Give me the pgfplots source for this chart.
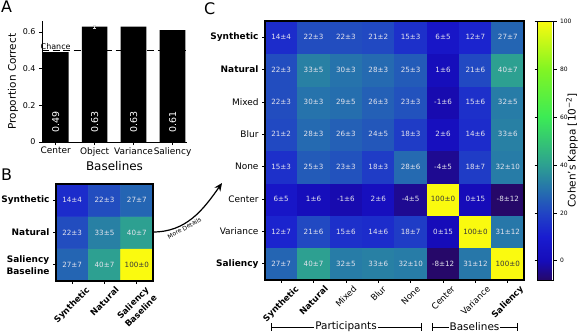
\documentclass[border=0pt]{standalone}
\usepackage{fontspec}
\setmainfont{DejaVu Sans}
\usepackage{pgfplots}
\usepackage{pgfplotstable}
\pgfplotsset{compat=1.18}
\usetikzlibrary{arrows.meta}

\definecolor{celllight}{RGB}{228,228,238}
\definecolor{celldark}{RGB}{55,55,55}

\pgfplotsset{
  /pgf/number format/assume math mode=true,
  colormap={kappa}{rgb255(0cm)=(38,8,105); rgb255(8cm)=(22,12,185);
    rgb255(18cm)=(25,28,208); rgb255(28cm)=(33,68,196); rgb255(38cm)=(38,115,172);
    rgb255(48cm)=(45,160,145); rgb255(68cm)=(60,235,85); rgb255(88cm)=(130,245,35);
    rgb255(108cm)=(250,250,15)},
}

% panel A: proportion correct
\pgfplotstableread{
x y ly
0 0.49 0.05
1 0.63 0.05
2 0.63 0.05
3 0.61 0.05
}\barsA

% panel B: 3x3 kappa (y=0 is the bottom row)
\pgfplotstableread{
x y m s
0 0 27 7
1 0 40 7
2 0 100 0
0 1 22 3
1 1 33 5
2 1 40 7
0 2 14 4
1 2 22 3
2 2 27 7
}\kappaB

% panel C: 8x8 kappa (y=0 is Saliency, y=7 is Synthetic)
\pgfplotstableread{
x y m s
0 0 27 7
1 0 40 7
2 0 32 5
3 0 33 6
4 0 32 10
5 0 -8 12
6 0 31 12
7 0 100 0
0 1 12 7
1 1 21 6
2 1 15 6
3 1 14 6
4 1 18 7
5 1 0 15
6 1 100 0
7 1 31 12
0 2 6 5
1 2 1 6
2 2 -1 6
3 2 2 6
4 2 -4 5
5 2 100 0
6 2 0 15
7 2 -8 12
0 3 15 3
1 3 25 3
2 3 23 3
3 3 18 3
4 3 28 6
5 3 -4 5
6 3 18 7
7 3 32 10
0 4 21 2
1 4 28 3
2 4 26 3
3 4 24 5
4 4 18 3
5 4 2 6
6 4 14 6
7 4 33 6
0 5 22 3
1 5 30 3
2 5 29 5
3 5 26 3
4 5 23 3
5 5 -1 6
6 5 15 6
7 5 32 5
0 6 22 3
1 6 33 5
2 6 30 3
3 6 28 3
4 6 25 3
5 6 1 6
6 6 21 6
7 6 40 7
0 7 14 4
1 7 22 3
2 7 22 3
3 7 21 2
4 7 15 3
5 7 6 5
6 7 12 7
7 7 27 7
}\kappaC

\pgfplotsset{
  heat/.style={
    scale only axis, enlargelimits=false, axis on top,
    colormap name=kappa, point meta min=-8, point meta max=100,
    axis line style={line width=1.3bp},
    tick pos=left, tick align=outside, major tick length=3bp,
    tick style={black, line width=0.8bp},
    yticklabel style={font=\fontsize{9}{10}\selectfont},
    xticklabel style={anchor=north, inner sep=2bp, font=\fontsize{8.6}{10}\selectfont},
  },
  celltext/.style={
    draw=none, mark=none,
    visualization depends on={\thisrow{m}\as\mval},
    visualization depends on={\thisrow{s}\as\sval},
    nodes near coords={\pgfmathprintnumber[fixed,precision=0]{\mval}±\pgfmathprintnumber[fixed,precision=0]{\sval}},
    every node near coord/.append style={anchor=center, text=#1,
      inner sep=0pt, font=\fontsize{7.2}{8}\selectfont},
  },
}

\begin{document}
\begin{tikzpicture}
\useasboundingbox (0,0) rectangle (582bp,-335bp);

% ---------- A ----------
\begin{axis}[
  at={(42bp,-142bp)}, anchor=south west, scale only axis,
  width=145bp, height=121bp,
  xmin=-0.35, xmax=3.37, ymin=0, ymax=0.66,
  axis x line*=bottom, axis y line*=left,
  axis line style={line width=0.9bp},
  tick align=outside, major tick length=3bp,
  tick style={black, line width=0.8bp},
  xtick={0,1,2,3}, xticklabels={Center,Object,Variance,Saliency},
  ytick={0,0.2,0.4,0.6},
  xticklabel style={font=\fontsize{9}{10}\selectfont, inner sep=2bp},
  yticklabel style={font=\fontsize{8}{9}\selectfont},
  xlabel={Baselines}, ylabel={Proportion Correct},
  xlabel style={font=\fontsize{12}{13}\selectfont, yshift=0bp},
  ylabel style={font=\fontsize{10.5}{12}\selectfont, yshift=-2bp},
  clip=false,
]
\addplot[white, line width=1.6bp] coordinates {(-0.35,0.5) (3.37,0.5)};
\addplot[black, line width=1.6bp, dash pattern=on 7bp off 3.5bp] coordinates {(-0.35,0.5) (3.37,0.5)};
\addplot[ybar, bar width=0.66, fill=black, draw=none] table[x=x, y=y] \barsA;
\addplot[draw=none, mark=none, error bars/.cd, y dir=both, y explicit,
  error bar style={gray!25, line width=0.9bp},
  error mark options={rotate=90, mark size=1.2bp, gray!25, line width=0.9bp}]
  coordinates {(1,0.63) +- (0,0.008)};
\addplot[draw=none, mark=none,
  visualization depends on={\thisrow{y}\as\bval},
  nodes near coords={\pgfmathprintnumber[fixed,fixed zerofill,precision=2]{\bval}},
  every node near coord/.append style={rotate=90, anchor=west, text=white,
    inner sep=0pt, font=\fontsize{9.5}{10}\selectfont}]
  table[x=x, y=ly] \barsA;
\node[above, inner sep=1bp, font=\fontsize{8}{9}\selectfont] at (axis cs:0,0.5) {Chance};
\end{axis}

% ---------- B ----------
\begin{axis}[heat,
  at={(104.5bp,-232.5bp)}, anchor=center,
  width=97bp, height=97bp,
  xmin=-0.5, xmax=2.5, ymin=-0.5, ymax=2.5,
  xtick={0,1,2}, ytick={0,1,2},
  xticklabels={\rotatebox{45}{\textbf{Synthetic}}, \rotatebox{45}{\textbf{Natural}},
    \rotatebox{45}{\shortstack{\textbf{Saliency}\\\textbf{Baseline}}}},
  yticklabels={\shortstack{\textbf{Saliency}\\\textbf{Baseline}}, \textbf{Natural}, \textbf{Synthetic}},
]
\addplot[matrix plot*, mesh/cols=3, point meta=explicit] table[x=x, y=y, meta=m] \kappaB;
\addplot[celltext=celllight, unbounded coords=discard, restrict expr to domain={\thisrow{m}}{-20:90}] table[x=x, y=y, meta=m] \kappaB;
\addplot[celltext=celldark, unbounded coords=discard, restrict expr to domain={\thisrow{m}}{90:110}] table[x=x, y=y, meta=m] \kappaB;
\end{axis}

% ---------- C ----------
\begin{axis}[heat,
  at={(394.5bp,-150.5bp)}, anchor=center,
  width=259bp, height=259bp,
  xmin=-0.5, xmax=7.5, ymin=-0.5, ymax=7.5,
  xtick={0,...,7}, ytick={0,...,7},
  xticklabels={\rotatebox{45}{\textbf{Synthetic}}, \rotatebox{45}{\textbf{Natural}},
    \rotatebox{45}{Mixed}, \rotatebox{45}{Blur}, \rotatebox{45}{None},
    \rotatebox{45}{Center}, \rotatebox{45}{Variance}, \rotatebox{45}{\textbf{Saliency}}},
  yticklabels={\textbf{Saliency}, Variance, Center, None, Blur, Mixed,
    \textbf{Natural}, \textbf{Synthetic}},
  colorbar,
  colorbar style={
    at={(parent axis.north east)}, anchor=north west, xshift=5bp,
    scale only axis, width=16bp, height=259bp,
    ytick={0,20,40,60,80,100},
    yticklabel pos=right,
    tick align=outside, major tick length=3bp,
    tick style={black, line width=0.7bp},
    axis line style={line width=1bp},
    yticklabel style={font=\fontsize{6}{7}\selectfont},
  },
]
\addplot[matrix plot*, mesh/cols=8, point meta=explicit] table[x=x, y=y, meta=m] \kappaC;
\addplot[celltext=celllight, unbounded coords=discard, restrict expr to domain={\thisrow{m}}{-20:90}] table[x=x, y=y, meta=m] \kappaC;
\addplot[celltext=celldark, unbounded coords=discard, restrict expr to domain={\thisrow{m}}{90:110}] table[x=x, y=y, meta=m] \kappaC;
\end{axis}

% colorbar label
\node[rotate=90, font=\fontsize{10.5}{12}\selectfont] at (572bp,-150.5bp) {Cohen's Kappa [10\textsuperscript{−2}]};

% group brackets
\begin{scope}[line width=0.8bp, font=\fontsize{10.5}{12}\selectfont]
\draw (271bp,-327bp) -- (421bp,-327bp);
\draw (271bp,-323bp) -- (271bp,-331bp);
\draw (421bp,-323bp) -- (421bp,-331bp);
\node[fill=white, inner sep=1bp] at (346bp,-327bp) {Participants};
\draw (432bp,-327bp) -- (517bp,-327bp);
\draw (432bp,-323bp) -- (432bp,-331bp);
\draw (517bp,-323bp) -- (517bp,-331bp);
\node[fill=white, inner sep=1bp] at (474.5bp,-327bp) {Baselines};
\end{scope}

% arrow B -> C
\draw[-{Stealth[length=8bp,width=7bp]}, line width=1.2bp]
  (153bp,-232bp) to[out=0, in=235]
  node[sloped, below, pos=0.35, inner sep=1bp, font=\fontsize{6}{7}\selectfont] {More Details}
  (222bp,-183bp);

% panel letters
\node[anchor=north west, inner sep=0pt, font=\fontsize{16}{16}\selectfont] at (1bp,-1bp) {A};
\node[anchor=north west, inner sep=0pt, font=\fontsize{16}{16}\selectfont] at (1bp,-169bp) {B};
\node[anchor=north west, inner sep=0pt, font=\fontsize{16}{16}\selectfont] at (204bp,-2bp) {C};
\end{tikzpicture}
\end{document}
